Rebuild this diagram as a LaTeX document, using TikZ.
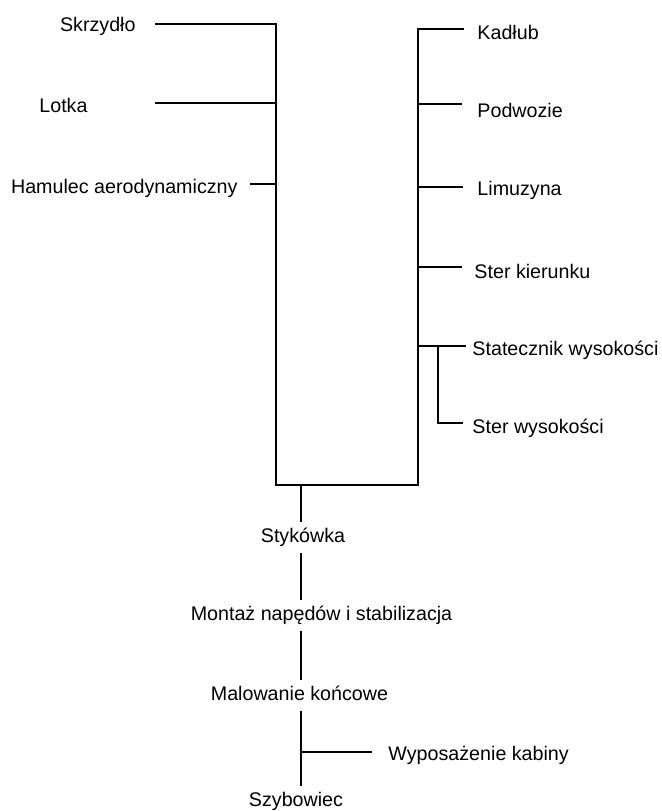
\documentclass[tikz,border=0pt]{standalone}
\usepackage{fontspec}
\setmainfont{Liberation Sans}
\newcommand\etykieta{\fontsize{16.8pt}{20pt}\selectfont}

\begin{document}
\begin{tikzpicture}[x=0.03cm,y=-0.03cm,line width=2.5pt,
    every node/.style={font=\etykieta,inner sep=0pt},
    lewa/.style={anchor=base east},
    prawa/.style={anchor=base west},
    etap/.style={anchor=base,text height=16pt,text depth=8.5pt}]
    \useasboundingbox (0,0) rectangle (661,811);

    % Pnie
    \coordinate (lewyG) at (276,24);
    \coordinate (lewyD) at (276,485);
    \coordinate (prawyG) at (418,29);
    \coordinate (prawyD) at (418,485);
    \coordinate (trzon) at (301,485);
    \coordinate (skrzydlo-k) at (155,24);
    \coordinate (kadlub-k) at (464,29);
    \draw (skrzydlo-k) -- (lewyG) -- (lewyD) -- (prawyD) -- (prawyG) -- (kadlub-k);

    % Lewa strona
    \node[lewa] (skrzydlo) at (137,31.5) {Skrzydło};
    \node[lewa] (lotka) at (89,112) {Lotka};
    \node[lewa] (hamulec) at (239,193) {Hamulec aerodynamiczny};
    \foreach \n/\x/\y in {lotka/155/103, hamulec/250/184} {
        \coordinate (\n-k) at (\x,\y);
        \draw (\n-k) -- (\n-k -| lewyG);
    }

    % Prawa strona
    \node[prawa] (kadlub) at (476,39) {Kadłub};
    \node[prawa] (podwozie) at (476,117) {Podwozie};
    \node[prawa] (limuzyna) at (476,195) {Limuzyna};
    \node[prawa] (sterk) at (473,278) {Ster kierunku};
    \node[prawa] (statecznik) at (471,355) {Statecznik wysokości};
    \node[prawa] (sterw) at (471,433) {Ster wysokości};
    \foreach \n/\x/\y in {podwozie/462/104, limuzyna/463/187, sterk/462/267, statecznik/466/346} {
        \coordinate (\n-k) at (\x,\y);
        \draw (prawyG |- \n-k) -- (\n-k);
    }
    \coordinate (sterw-g) at (438,346);
    \coordinate (sterw-k) at (463,423);
    \draw (sterw-g) |- (sterw-k);

    % Etapy montażu
    \node[etap] (stykowka) at (303,542) {Stykówka};
    \node[etap] (montaz) at (321.5,620) {Montaż napędów i stabilizacja};
    \node[etap] (malowanie) at (299.5,700) {Malowanie końcowe};
    \node[etap] (szybowiec) at (296,806) {Szybowiec};
    \draw (trzon) -- (trzon |- stykowka.north);
    \draw (trzon |- stykowka.south) -- (trzon |- montaz.north);
    \draw (trzon |- montaz.south) -- (trzon |- malowanie.north);
    \draw (trzon |- malowanie.south) -- (trzon |- szybowiec.north);

    \node[prawa] (wyposazenie) at (387,760) {Wyposażenie kabiny};
    \coordinate (wyposazenie-k) at (372,752);
    \draw (trzon |- wyposazenie-k) -- (wyposazenie-k);
\end{tikzpicture}
\end{document}
